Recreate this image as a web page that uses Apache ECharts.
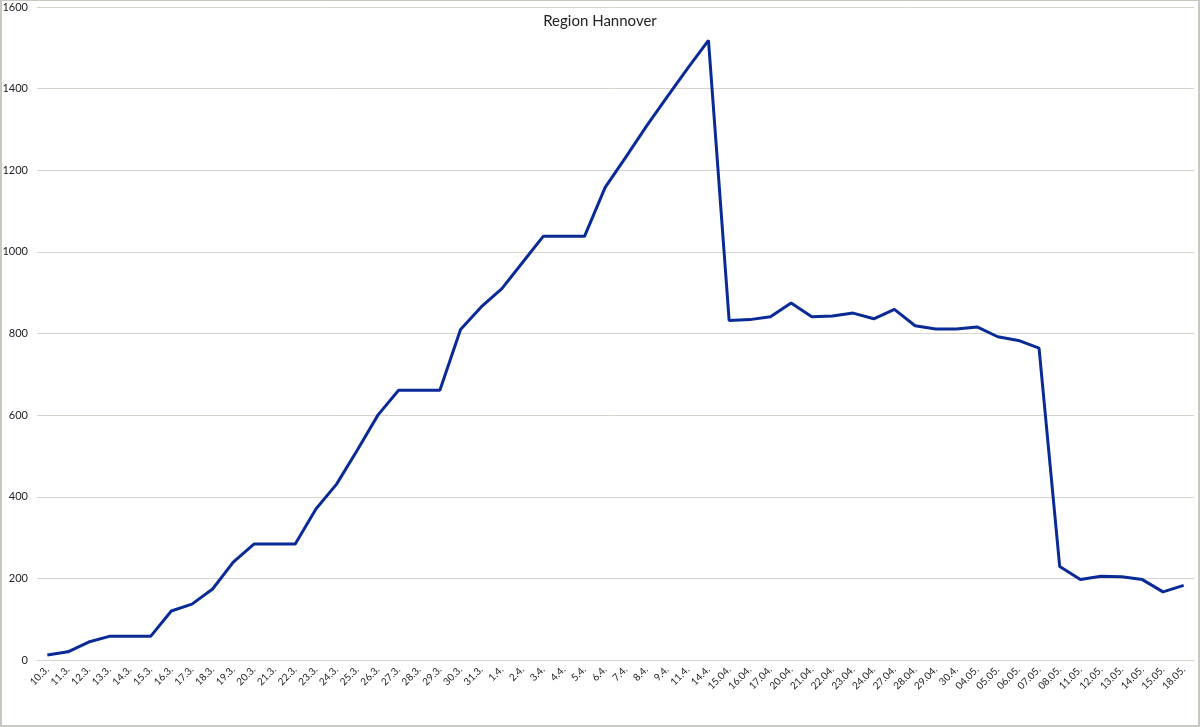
<!DOCTYPE html>
<html>
<head>
<meta charset="utf-8">
<script src="https://cdn.jsdelivr.net/npm/echarts@6/dist/echarts.min.js"></script>
<style>
html,body{margin:0;padding:0;background:#fff;}
#wrap{width:1200px;height:727px;box-sizing:border-box;border:1px solid #c9c8c0;border-width:1px 2px 2px 2px;}
#chart{width:100%;height:100%;}
</style>
</head>
<body>
<div id="wrap"><div id="chart"></div></div>
<script>
const categories = ["10.3.","11.3.","12.3.","13.3.","14.3.","15.3.","16.3.","17.3.","18.3.","19.3.","20.3.","21.3.","22.3.","23.3.","24.3.","25.3.","26.3.","27.3.","28.3.","29.3.","30.3.","31.3.","1.4.","2.4.","3.4.","4.4.","5.4.","6.4.","7.4.","8.4.","9.4.","11.4.","14.4.","15.04.","16.04.","17.04.","20.04.","21.04.","22.04.","23.04.","24.04.","27.04.","28.04.","29.04.","30.4.","04.05.","05.05.","06.05.","07.05.","08.05.","11.05.","12.05.","13.05.","14.05.","15.05.","18.05."];
const values = [12,20,44,58,58,58,120,137,174,240,284,284,284,370,431,514,600,661,661,661,810,865,910,974,1038,1038,1038,1158,1232,1308,1380,1450,1518,832,834,841,875,841,843,850,836,859,819,811,811,816,792,783,764,229,197,205,204,197,167,183];
const chartTitle = "Region Hannover";

const chart = echarts.init(document.getElementById('chart'));
chart.setOption({
  animation: false,
  backgroundColor: '#ffffff',
  title: {
    text: chartTitle,
    left: 'center',
    top: 8,
    textStyle: {fontFamily: 'Lato', fontSize: 15, fontWeight: 'normal', color: '#222'}
  },
  grid: {left: 35, right: 4, top: 6, bottom: 65, containLabel: false, outerBoundsMode: 'none'},
  xAxis: {
    type: 'category',
    data: categories,
    boundaryGap: true,
    axisLine: {show: true, lineStyle: {color: '#d5d3cb', width: 1}},
    axisTick: {show: false},
    axisLabel: {rotate: 45, fontFamily: 'Lato', fontSize: 10, color: '#222', interval: 0, margin: 8}
  },
  yAxis: {
    type: 'value',
    min: 0,
    max: 1600,
    interval: 200,
    axisLine: {show: false},
    axisTick: {show: false},
    splitLine: {lineStyle: {color: '#d5d3cb', width: 1}},
    axisLabel: {fontFamily: 'Lato', fontSize: 11, color: '#222', margin: 9, formatter: function(v){ return String(v); }}
  },
  series: [{
    type: 'line',
    data: values,
    showSymbol: false,
    symbol: 'none',
    lineStyle: {color: '#0a2a96', width: 3},
    itemStyle: {color: '#0a2a96'}
  }]
});
</script>
</body>
</html>
